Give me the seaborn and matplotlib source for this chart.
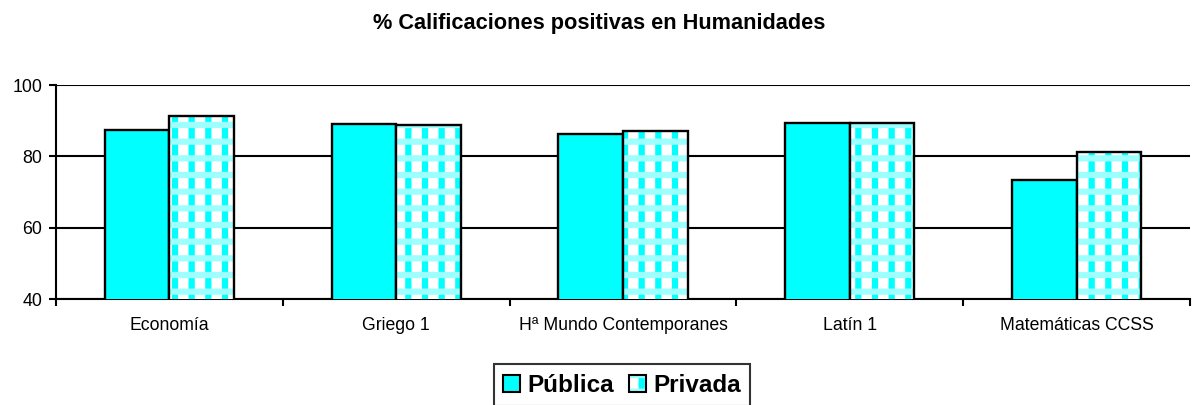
import matplotlib
matplotlib.use("Agg")
import matplotlib.pyplot as plt
import seaborn as sns
import pandas as pd
from matplotlib.patches import Patch
from matplotlib.legend_handler import HandlerTuple

asignaturas = ["Economía", "Griego 1", "Hª Mundo Contemporanes", "Latín 1", "Matemáticas CCSS"]
publica = [87.4, 89.2, 86.2, 89.3, 73.4]
privada = [91.3, 88.9, 87.0, 89.4, 81.2]
series = ["Pública", "Privada"]

df = pd.DataFrame({
    "asignatura": asignaturas * 2,
    "valor": publica + privada,
    "centro": [series[0]] * len(asignaturas) + [series[1]] * len(asignaturas),
})

sns.set_theme(style="white")
plt.rcParams["font.family"] = ["Liberation Sans", "DejaVu Sans"]
plt.rcParams["hatch.linewidth"] = 4.5
for key in ["text.color", "axes.labelcolor", "xtick.color", "ytick.color"]:
    plt.rcParams[key] = "black"

fig = plt.figure(figsize=(11.93, 4.05), dpi=100)
ax = fig.add_axes([56 / 1193, 1 - 299 / 405, 1134 / 1193, 214 / 405])

cyan = "#00FFFF"
light_cyan = "#9EFFFF"
sns.barplot(data=df, x="asignatura", y="valor", hue="centro", order=asignaturas,
            hue_order=series, palette=[cyan, cyan], width=0.57, saturation=1,
            edgecolor="black", linewidth=1.7, legend=False, ax=ax, zorder=3)

n = len(asignaturas)
bars = ax.patches
# second hue level: cyan columns on white crossed by pale cyan bands, black outline on top
for p in list(bars[n:2 * n]):
    p.set_facecolor("white")
    p.set_edgecolor(cyan)
    p.set_hatch("|")
    p.set_linewidth(0)
    bands = plt.Rectangle(p.get_xy(), p.get_width(), p.get_height(), facecolor="none",
                          edgecolor=light_cyan, hatch="-", linewidth=0, zorder=3.5)
    outline = plt.Rectangle(p.get_xy(), p.get_width(), p.get_height(),
                            fill=False, edgecolor="black", linewidth=1.7, zorder=4)
    ax.add_patch(bands)
    ax.add_patch(outline)

ax.set_ylim(40, 100)
ax.set_xlim(-0.5, n - 0.5)
ax.set_yticks([40, 60, 80, 100])
ax.yaxis.grid(True, color="black", linewidth=1.5, zorder=0)
ax.set_axisbelow(True)

ax.set_xticks(range(n))
ax.set_xticklabels(asignaturas)
ax.set_xticks([i + 0.5 for i in range(-1, n)], minor=True)
ax.tick_params(axis="x", which="major", length=0, pad=13, labelsize=12.7)
ax.tick_params(axis="x", which="minor", length=5, width=1.5, color="black", direction="out", bottom=True)
ax.tick_params(axis="y", length=5, width=1.5, color="black", direction="out", left=True,
               labelsize=12.8, pad=5)
ax.set_xlabel("")
ax.set_ylabel("")

for side in ["top", "right"]:
    ax.spines[side].set_visible(False)
for side in ["left", "bottom"]:
    ax.spines[side].set_color("black")
    ax.spines[side].set_linewidth(1.5)

fig.text(599 / 1193, 1 - 24 / 405, "% Calificaciones positivas en Humanidades",
         ha="center", va="center", fontsize=15.7, fontweight="bold")

h_pub = Patch(facecolor=cyan, edgecolor="black", linewidth=1.5)
h_priv_fill = Patch(facecolor="white", edgecolor=cyan, hatch="|", linewidth=0)
h_priv_bands = Patch(facecolor="none", edgecolor=light_cyan, hatch="-", linewidth=0)
h_priv_edge = Patch(facecolor="none", edgecolor="black", linewidth=1.5)
leg = fig.legend(handles=[h_pub, (h_priv_fill, h_priv_bands, h_priv_edge)], labels=series,
                 handler_map={tuple: HandlerTuple(ndivide=1, pad=0)},
                 loc="upper center", bbox_to_anchor=(622 / 1193, 1 - 364 / 405),
                 ncol=2, frameon=True, fancybox=False, handlelength=0.7, handleheight=0.7,
                 handletextpad=0.3, columnspacing=0.6, borderpad=0.4, borderaxespad=0,
                 prop={"size": 17.5, "weight": "bold"})
leg.get_frame().set_edgecolor("black")
leg.get_frame().set_linewidth(1.5)

fig.savefig("out.png", dpi=100, facecolor="white")
